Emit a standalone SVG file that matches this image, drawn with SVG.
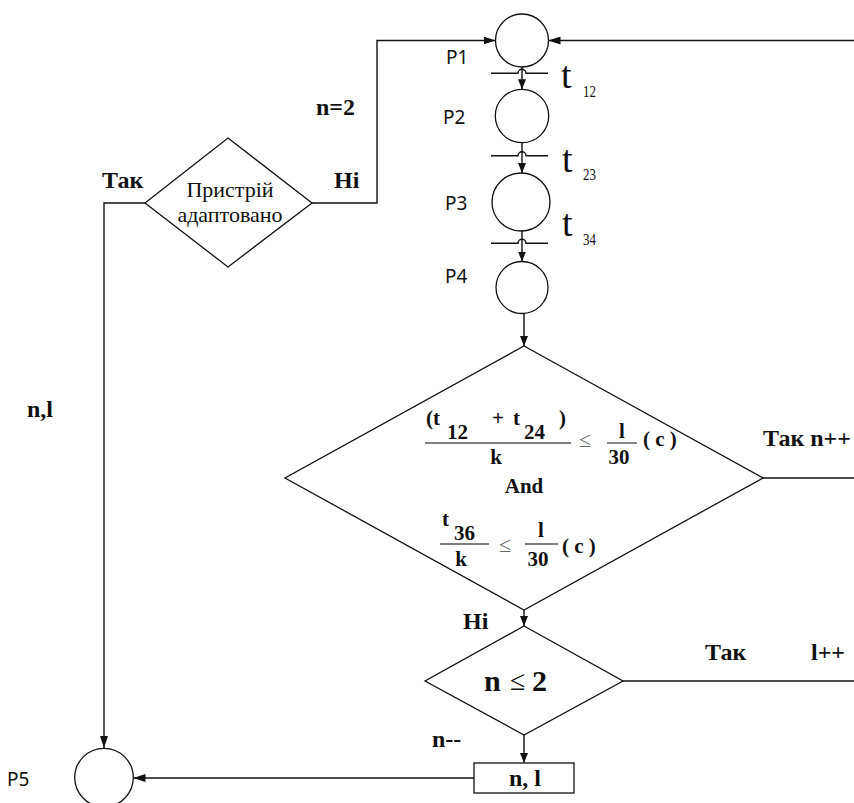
<svg xmlns="http://www.w3.org/2000/svg" width="854" height="803" viewBox="0 0 854 803">
<style>
.ln{fill:none;stroke:#111;stroke-width:1.4}
.shape{fill:#fff;stroke:#111;stroke-width:1.3}
.pl{font-family:"Noto Sans","Open Sans",sans-serif;font-size:19px;fill:#111}
.b{font-family:"Liberation Serif","Times New Roman",serif;font-weight:bold;fill:#111}
.r{font-family:"Liberation Serif","Times New Roman",serif;fill:#111}
.le{font-family:"Liberation Serif","Times New Roman",serif;fill:#666}
.fr{stroke:#555;stroke-width:1.4}
</style>
<defs>
<marker id="ah" viewBox="0 0 12 8" refX="12" refY="4" markerWidth="12" markerHeight="8" orient="auto" markerUnits="userSpaceOnUse"><path d="M0,0 L12,4 L0,8 z" fill="#111"/></marker>
<marker id="as" viewBox="0 0 10 8" refX="10" refY="4" markerWidth="10" markerHeight="8" orient="auto" markerUnits="userSpaceOnUse"><path d="M0,0 L10,4 L0,8 z" fill="#111"/></marker>
</defs>

<g id="connectors">
<polyline class="ln" points="312,203 377,203 377,40.5 495.5,40.5" marker-end="url(#ah)"/>
<line class="ln" x1="854" y1="40.5" x2="548.5" y2="40.5" marker-end="url(#ah)"/>
<line class="ln" x1="522" y1="67" x2="522" y2="89.3" marker-end="url(#as)"/>
<line class="ln" x1="522" y1="142.7" x2="522" y2="173" marker-end="url(#as)"/>
<line class="ln" x1="522" y1="231" x2="522" y2="261.5" marker-end="url(#as)"/>
<line class="ln" x1="524" y1="313.5" x2="524" y2="346" marker-end="url(#as)"/>
<line class="ln" x1="524" y1="610" x2="524" y2="626" marker-end="url(#as)"/>
<line class="ln" x1="763" y1="478" x2="854" y2="478"/>
<line class="ln" x1="623" y1="681" x2="854" y2="681"/>
<line class="ln" x1="524" y1="735" x2="524" y2="763" marker-end="url(#as)"/>
<line class="ln" x1="474" y1="778" x2="133.5" y2="778" marker-end="url(#ah)"/>
<polyline class="ln" points="145,203 104,203 104,748" marker-end="url(#ah)"/>
</g>

<g id="P1"><circle class="shape" cx="522" cy="40.5" r="26.5"/><text class="pl" x="446" y="64">P1</text></g>
<g id="t12"><path class="ln" d="M491,73.3 H518 A4,4 0 0 1 526,73.3 H548"/><text class="r" x="561" y="88" font-size="38">t</text><text class="r" x="583" y="97" font-size="17" textLength="13" lengthAdjust="spacingAndGlyphs">12</text></g>
<g id="P2"><circle class="shape" cx="522" cy="116" r="26.7"/><text class="pl" x="443" y="124">P2</text></g>
<g id="t23"><path class="ln" d="M491,155.7 H518 A4,4 0 0 1 526,155.7 H548"/><text class="r" x="562" y="172" font-size="38">t</text><text class="r" x="583" y="180" font-size="17" textLength="13" lengthAdjust="spacingAndGlyphs">23</text></g>
<g id="P3"><circle class="shape" cx="521" cy="202" r="29"/><text class="pl" x="445" y="210">P3</text></g>
<g id="t34"><path class="ln" d="M491,243.3 H518 A4,4 0 0 1 526,243.3 H548"/><text class="r" x="562" y="236" font-size="38">t</text><text class="r" x="583" y="245" font-size="17" textLength="13" lengthAdjust="spacingAndGlyphs">34</text></g>
<g id="P4"><circle class="shape" cx="522" cy="287.5" r="26"/><text class="pl" x="445" y="283">P4</text></g>
<g id="P5"><circle class="shape" cx="104" cy="777.6" r="29.3"/><text class="pl" x="7" y="786">P5</text></g>

<g id="adapted">
<polygon class="shape" points="228,138 312,203 228,267 145,203"/>
<text class="r" x="230" y="197" font-size="22" text-anchor="middle">Пристрій</text>
<text class="r" x="230" y="222" font-size="22" text-anchor="middle">адаптовано</text>
</g>

<g id="condition">
<polygon class="shape" points="524,346 763,478 524,610 285,478"/>
<text class="b" font-size="21"><tspan x="426" y="425">(t</tspan><tspan x="447" y="439">12</tspan><tspan x="492" y="425">+</tspan><tspan x="513" y="425">t</tspan><tspan x="524" y="439">24</tspan><tspan x="559" y="425">)</tspan></text>
<line class="fr" x1="425" y1="443" x2="571" y2="443"/>
<text class="b" font-size="21" x="496" y="464" text-anchor="middle">k</text>
<text class="le" font-size="22" x="579" y="447">≤</text>
<text class="b" font-size="21" x="622" y="438" text-anchor="middle">l</text>
<line class="fr" x1="607" y1="443" x2="637" y2="443"/>
<text class="b" font-size="21" x="619" y="464" text-anchor="middle">30</text>
<text class="b" font-size="21" x="643" y="446">( c )</text>
<text class="b" font-size="21" x="524" y="493" text-anchor="middle">And</text>
<text class="b" font-size="21" x="442" y="526">t</text>
<text class="b" font-size="21" x="454" y="540">36</text>
<line class="fr" x1="440" y1="544" x2="489" y2="544"/>
<text class="b" font-size="21" x="461" y="566" text-anchor="middle">k</text>
<text class="le" font-size="22" x="499" y="552">≤</text>
<text class="b" font-size="21" x="541" y="537" text-anchor="middle">l</text>
<line class="fr" x1="525" y1="544" x2="558" y2="544"/>
<text class="b" font-size="21" x="538" y="566" text-anchor="middle">30</text>
<text class="b" font-size="21" x="562" y="553">( c )</text>
</g>

<g id="n-check">
<polygon class="shape" points="524,626 623,681 524,735 425,681"/>
<text class="b" font-size="30" x="484" y="691">n</text>
<text class="r" font-size="28" x="510" y="690">≤</text>
<text class="b" font-size="30" x="532" y="691">2</text>
</g>

<g id="output-box">
<rect class="shape" x="474" y="763" width="100" height="30"/>
<text class="b" font-size="24" x="525" y="786" text-anchor="middle">n, l</text>
</g>

<g id="labels">
<text class="b" font-size="24" x="316" y="115">n=2</text>
<text class="b" font-size="24" x="334" y="188">Hi</text>
<text class="b" font-size="24" x="102" y="188">Так</text>
<text class="b" font-size="24" x="27" y="417">n,l</text>
<text class="b" font-size="24" x="763" y="446">Так n++</text>
<text class="b" font-size="24" x="463" y="629">Hi</text>
<text class="b" font-size="24" x="705" y="660">Так</text>
<text class="b" font-size="24" x="811" y="660">l++</text>
<text class="b" font-size="24" x="432" y="747">n--</text>
</g>
</svg>
